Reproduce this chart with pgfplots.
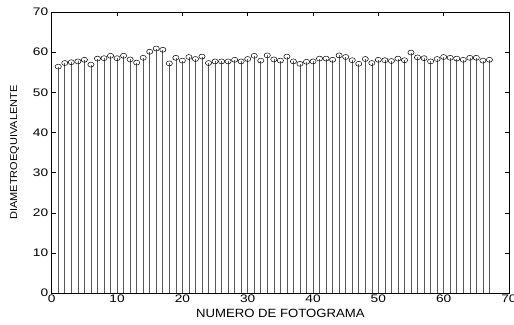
\documentclass[border=0pt]{standalone}
\usepackage{pgfplots}
\pgfplotsset{compat=1.18}
\usepackage{fontspec}
\setmainfont{Liberation Sans}
\newfontfamily\tickfont[FakeStretch=1.25]{Liberation Sans}
\newfontfamily\labfont[FakeStretch=1.1]{Liberation Sans}
\pgfplotstableread{
x y
1 56.4
2 57.3
3 57.5
4 57.7
5 58.1
6 56.9
7 58.4
8 58.5
9 59.1
10 58.5
11 59.1
12 58.2
13 57.4
14 58.6
15 60.1
16 60.9
17 60.6
18 57.2
19 58.6
20 57.9
21 58.8
22 58.3
23 58.9
24 57.3
25 57.7
26 57.7
27 57.7
28 58.1
29 57.7
30 58.3
31 59.1
32 57.9
33 59.2
34 58.2
35 57.9
36 58.9
37 57.7
38 57.1
39 57.6
40 57.7
41 58.4
42 58.4
43 58.1
44 59.2
45 58.8
46 58.0
47 57.1
48 58.3
49 57.3
50 58.1
51 58.0
52 57.8
53 58.4
54 58.0
55 59.9
56 58.7
57 58.5
58 57.7
59 58.3
60 58.8
61 58.6
62 58.4
63 58.1
64 58.6
65 58.6
66 57.9
67 58.1
}\datatable
\begin{document}
\begin{tikzpicture}
\begin{axis}[
  name=ax,
  scale only axis,
  width=457bp, height=281bp,
  xmin=0, xmax=70, ymin=0, ymax=70,
  xtick={0,10,...,70}, ytick={0,10,...,70},
  tick align=inside,
  major tick length=4bp,
  axis line style={line width=0.7pt},
  every tick/.style={black, line width=0.5pt},
  /pgf/number format/assume math mode=true,
  tick label style={font=\tickfont\fontsize{11}{13}\selectfont},
  xticklabel style={yshift=1.5bp},
  yticklabel style={xshift=0bp},
  xlabel={\labfont\fontsize{12}{14}\selectfont NUMERO DE FOTOGRAMA},
  ylabel={\labfont\fontsize{10}{12}\selectfont DIAMETROEQUIVALENTE},
  xlabel style={yshift=1bp},
  ylabel style={yshift=7bp},
]
\addplot[ycomb, black!65, line width=0.6pt] table[x=x,y=y] {\datatable};
\addplot[only marks, mark=o, mark size=2.5pt, mark options={xscale=1.25, black, line width=0.5pt, fill=white}] table[x=x,y=y] {\datatable};
\end{axis}
\pgfresetboundingbox
\path ([xshift=-51.7bp,yshift=-31bp]ax.south west) rectangle ([xshift=5bp,yshift=12bp]ax.north east);
\end{tikzpicture}
\end{document}
